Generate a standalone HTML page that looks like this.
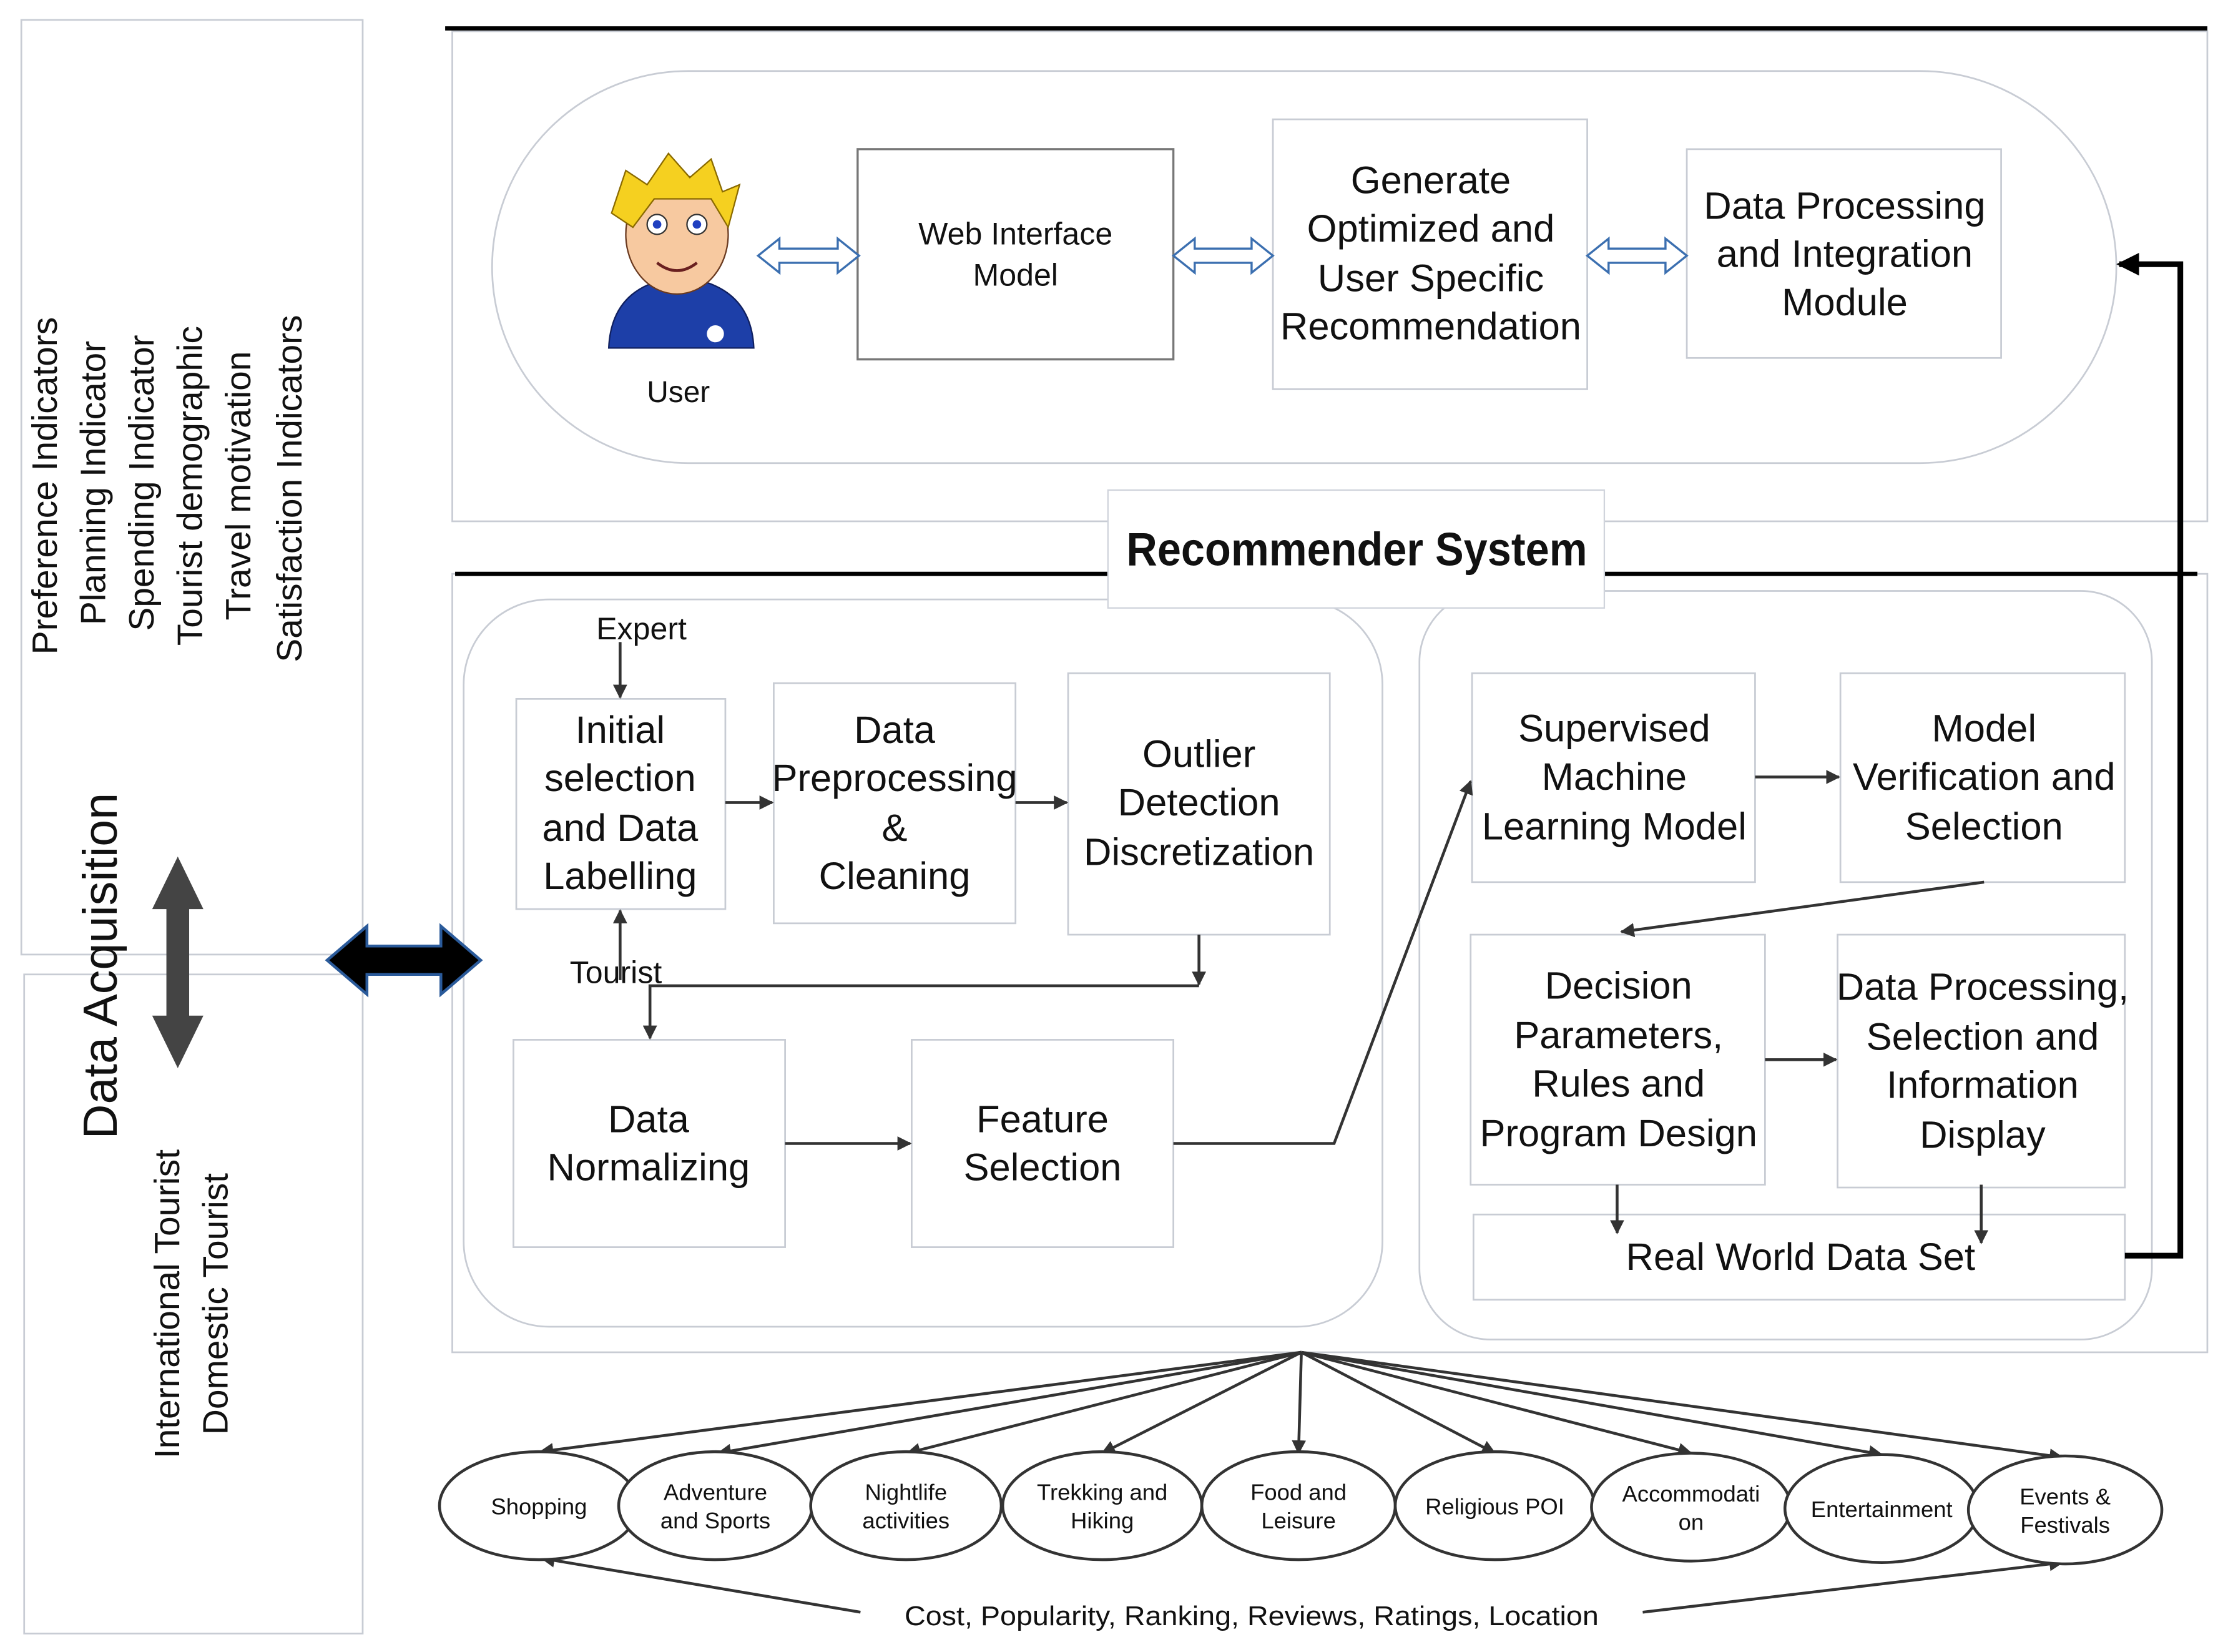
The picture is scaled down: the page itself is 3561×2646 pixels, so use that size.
<!DOCTYPE html>
<html><head><meta charset="utf-8"><style>html,body{margin:0;padding:0;background:#fff}svg{display:block}text{font-family:"Liberation Sans",sans-serif;fill:#111}.n{font-family:"Liberation Sans Narrow","Liberation Sans",sans-serif}</style></head><body>
<svg width="3561" height="2646" viewBox="0 0 1563 1163" preserveAspectRatio="none" xmlns="http://www.w3.org/2000/svg">
<defs>
<marker id="a" markerWidth="10" markerHeight="10" refX="9" refY="5" orient="auto" markerUnits="userSpaceOnUse"><path d="M0,0 L10,5 L0,10 z" fill="#333"/></marker>
<marker id="b" markerWidth="16" markerHeight="16" refX="14" refY="8" orient="auto" markerUnits="userSpaceOnUse"><path d="M0,0 L16,8 L0,16 z" fill="#000"/></marker>
</defs>
<g fill="none" stroke="#c8ccd4" stroke-width="1.2">
<rect x="15" y="14" width="240" height="658"/>
<rect x="17" y="686" width="238" height="464"/>
<rect x="318" y="22" width="1234" height="345"/>
<rect x="346" y="50" width="1142" height="276" rx="138"/>
<rect x="318" y="404" width="1234" height="548"/>
<rect x="326" y="422" width="646" height="512" rx="60"/>
<rect x="998" y="416" width="515" height="527" rx="50"/>
<rect x="895" y="84" width="221" height="190"/>
<rect x="1186" y="105" width="221" height="147"/>
<rect x="363" y="492" width="147" height="148"/>
<rect x="544" y="481" width="170" height="169"/>
<rect x="751" y="474" width="184" height="184"/>
<rect x="361" y="732" width="191" height="146"/>
<rect x="641" y="732" width="184" height="146"/>
<rect x="1035" y="474" width="199" height="147"/>
<rect x="1294" y="474" width="200" height="147"/>
<rect x="1034" y="658" width="207" height="176"/>
<rect x="1292" y="658" width="202" height="178"/>
<rect x="1036" y="855" width="458" height="60"/>
</g>
<rect x="603" y="105" width="222" height="148" fill="#fff" stroke="#777" stroke-width="1.5"/>
<line x1="313" y1="20" x2="1552" y2="20" stroke="#000" stroke-width="3"/>
<line x1="320" y1="404" x2="1545" y2="404" stroke="#000" stroke-width="3"/>
<rect x="779" y="345" width="349" height="83" fill="#fff" stroke="#d0d4dc"/>
<text x="954" y="398" font-size="33" font-weight="bold" text-anchor="middle" textLength="324" lengthAdjust="spacingAndGlyphs">Recommender System</text>
<g font-size="25" text-anchor="middle">
<text transform="translate(40,342) rotate(-90)">Preference Indicators</text>
<text transform="translate(74,340) rotate(-90)">Planning Indicator</text>
<text transform="translate(108,340) rotate(-90)">Spending Indicator</text>
<text transform="translate(142,342) rotate(-90)">Tourist demographic</text>
<text transform="translate(176,342) rotate(-90)">Travel motivation</text>
<text transform="translate(212,344) rotate(-90)">Satisfaction Indicators</text>
<text transform="translate(126,918) rotate(-90)">International Tourist</text>
<text transform="translate(160,918) rotate(-90)">Domestic Tourist</text>
<text font-size="34" transform="translate(82,680) rotate(-90)">Data Acquisition</text>
</g>
<path d="M125,603 L143,640 L133,640 L133,715 L143,715 L125,752 L107,715 L117,715 L117,640 L107,640 z" fill="#444"/>
<path d="M230,676 L258,652 L258,666 L310,666 L310,652 L338,676 L310,700 L310,686 L258,686 L258,700 z" fill="#000" stroke="#2a5a9a" stroke-width="2"/>
<g fill="#fff" stroke="#3b6fb0" stroke-width="1.5">
<path d="M533,180 L548,168 L548,175 L589,175 L589,168 L604,180 L589,192 L589,185 L548,185 L548,192 z"/>
<path d="M825,180 L840,168 L840,175 L880,175 L880,168 L895,180 L880,192 L880,185 L840,185 L840,192 z"/>
<path d="M1116,180 L1131,168 L1131,175 L1171,175 L1171,168 L1186,180 L1171,192 L1171,185 L1131,185 L1131,192 z"/>
</g>
<g>
<path d="M428,245 Q430,200 478,195 Q528,200 530,245 z" fill="#1d3fa8" stroke="#102060"/>
<ellipse cx="476" cy="165" rx="36" ry="42" fill="#f7c9a0" stroke="#6a3a20"/>
<path d="M430,150 L440,120 L455,130 L470,108 L485,125 L500,112 L508,135 L520,130 L512,160 L500,140 L460,140 L445,160 z" fill="#f5d020" stroke="#8a6a00"/>
<circle cx="462" cy="158" r="7" fill="#fff" stroke="#333"/><circle cx="490" cy="158" r="7" fill="#fff" stroke="#333"/>
<circle cx="462" cy="158" r="3" fill="#2040c0"/><circle cx="490" cy="158" r="3" fill="#2040c0"/>
<path d="M462,185 Q476,196 490,185" fill="none" stroke="#6a2020" stroke-width="2"/>
<circle cx="503" cy="235" r="6" fill="#fff"/>
</g>
<text x="477" y="283" font-size="21" text-anchor="middle" class="n">User</text>
<g font-size="22" text-anchor="middle" class="n"><text x="714" y="172">Web Interface</text><text x="714" y="201">Model</text></g>
<g font-size="27" text-anchor="middle" class="n">
<text x="1006" y="136">Generate</text><text x="1006" y="170">Optimized and</text><text x="1006" y="205">User Specific</text><text x="1006" y="239">Recommendation</text>
<text x="1297" y="154">Data Processing</text><text x="1297" y="188">and Integration</text><text x="1297" y="222">Module</text>
<text x="436" y="523">Initial</text><text x="436" y="557">selection</text><text x="436" y="592">and Data</text><text x="436" y="626">Labelling</text>
<text x="629" y="523">Data</text><text x="629" y="557">Preprocessing</text><text x="629" y="592">&amp;</text><text x="629" y="626">Cleaning</text>
<text x="843" y="540">Outlier</text><text x="843" y="574">Detection</text><text x="843" y="609">Discretization</text>
<text x="456" y="797">Data</text><text x="456" y="831">Normalizing</text>
<text x="733" y="797">Feature</text><text x="733" y="831">Selection</text>
<text x="1135" y="522">Supervised</text><text x="1135" y="556">Machine</text><text x="1135" y="591">Learning Model</text>
<text x="1395" y="522">Model</text><text x="1395" y="556">Verification and</text><text x="1395" y="591">Selection</text>
<text x="1138" y="703">Decision</text><text x="1138" y="738">Parameters,</text><text x="1138" y="772">Rules and</text><text x="1138" y="807">Program Design</text>
<text x="1394" y="704">Data Processing,</text><text x="1394" y="739">Selection and</text><text x="1394" y="773">Information</text><text x="1394" y="808">Display</text>
<text x="1266" y="894">Real World Data Set</text>
</g>
<g font-size="22" text-anchor="middle" class="n"><text x="451" y="450">Expert</text><text x="433" y="692">Tourist</text></g>
<g stroke="#333" stroke-width="2" fill="none" marker-end="url(#a)">
<line x1="436" y1="452" x2="436" y2="491"/>
<line x1="436" y1="690" x2="436" y2="641"/>
<line x1="843" y1="658" x2="843" y2="693"/>
<path d="M843,694 L457,694 L457,731"/>
<line x1="510" y1="565" x2="543" y2="565"/>
<line x1="714" y1="565" x2="750" y2="565"/>
<line x1="552" y1="805" x2="640" y2="805"/>
<path d="M825,805 L938,805 L1034,550"/>
<line x1="1234" y1="547" x2="1293" y2="547"/>
<line x1="1395" y1="621" x2="1140" y2="656"/>
<line x1="1241" y1="746" x2="1291" y2="746"/>
<line x1="1137" y1="834" x2="1137" y2="868"/>
<line x1="1393" y1="834" x2="1393" y2="875"/>
</g>
<path d="M1494,884 L1533,884 L1533,186 L1490,186" fill="none" stroke="#000" stroke-width="4" marker-end="url(#b)"/>
<g stroke="#333" stroke-width="2" fill="none" marker-end="url(#a)">
<line x1="915" y1="952" x2="380" y2="1022"/>
<line x1="915" y1="952" x2="505" y2="1023"/>
<line x1="915" y1="952" x2="638" y2="1023"/>
<line x1="915" y1="952" x2="775" y2="1023"/>
<line x1="915" y1="952" x2="913" y2="1023"/>
<line x1="915" y1="952" x2="1051" y2="1023"/>
<line x1="915" y1="952" x2="1189" y2="1023"/>
<line x1="915" y1="952" x2="1323" y2="1024"/>
<line x1="915" y1="952" x2="1450" y2="1026"/>
<line x1="605" y1="1135" x2="381" y2="1097"/>
<line x1="1155" y1="1135" x2="1450" y2="1100"/>
</g>
<g fill="#fff" stroke="#333" stroke-width="2">
<ellipse cx="379" cy="1060" rx="70" ry="38"/>
<ellipse cx="503" cy="1060" rx="68" ry="38"/>
<ellipse cx="637" cy="1060" rx="67" ry="38"/>
<ellipse cx="775" cy="1060" rx="70" ry="38"/>
<ellipse cx="913" cy="1060" rx="68" ry="38"/>
<ellipse cx="1051" cy="1060" rx="70" ry="38"/>
<ellipse cx="1189" cy="1061" rx="70" ry="38"/>
<ellipse cx="1323" cy="1062" rx="68" ry="38"/>
<ellipse cx="1452" cy="1063" rx="68" ry="38"/>
</g>
<g font-size="16" text-anchor="middle">
<text x="379" y="1066">Shopping</text>
<text x="503" y="1056">Adventure</text><text x="503" y="1076">and Sports</text>
<text x="637" y="1056">Nightlife</text><text x="637" y="1076">activities</text>
<text x="775" y="1056">Trekking and</text><text x="775" y="1076">Hiking</text>
<text x="913" y="1056">Food and</text><text x="913" y="1076">Leisure</text>
<text x="1051" y="1066">Religious POI</text>
<text x="1189" y="1057">Accommodati</text><text x="1189" y="1077">on</text>
<text x="1323" y="1068">Entertainment</text>
<text x="1452" y="1059">Events &amp;</text><text x="1452" y="1079">Festivals</text>
</g>
<text x="880" y="1144" font-size="19" text-anchor="middle" textLength="488" lengthAdjust="spacingAndGlyphs">Cost, Popularity, Ranking, Reviews, Ratings, Location</text>
</svg>
</body></html>
